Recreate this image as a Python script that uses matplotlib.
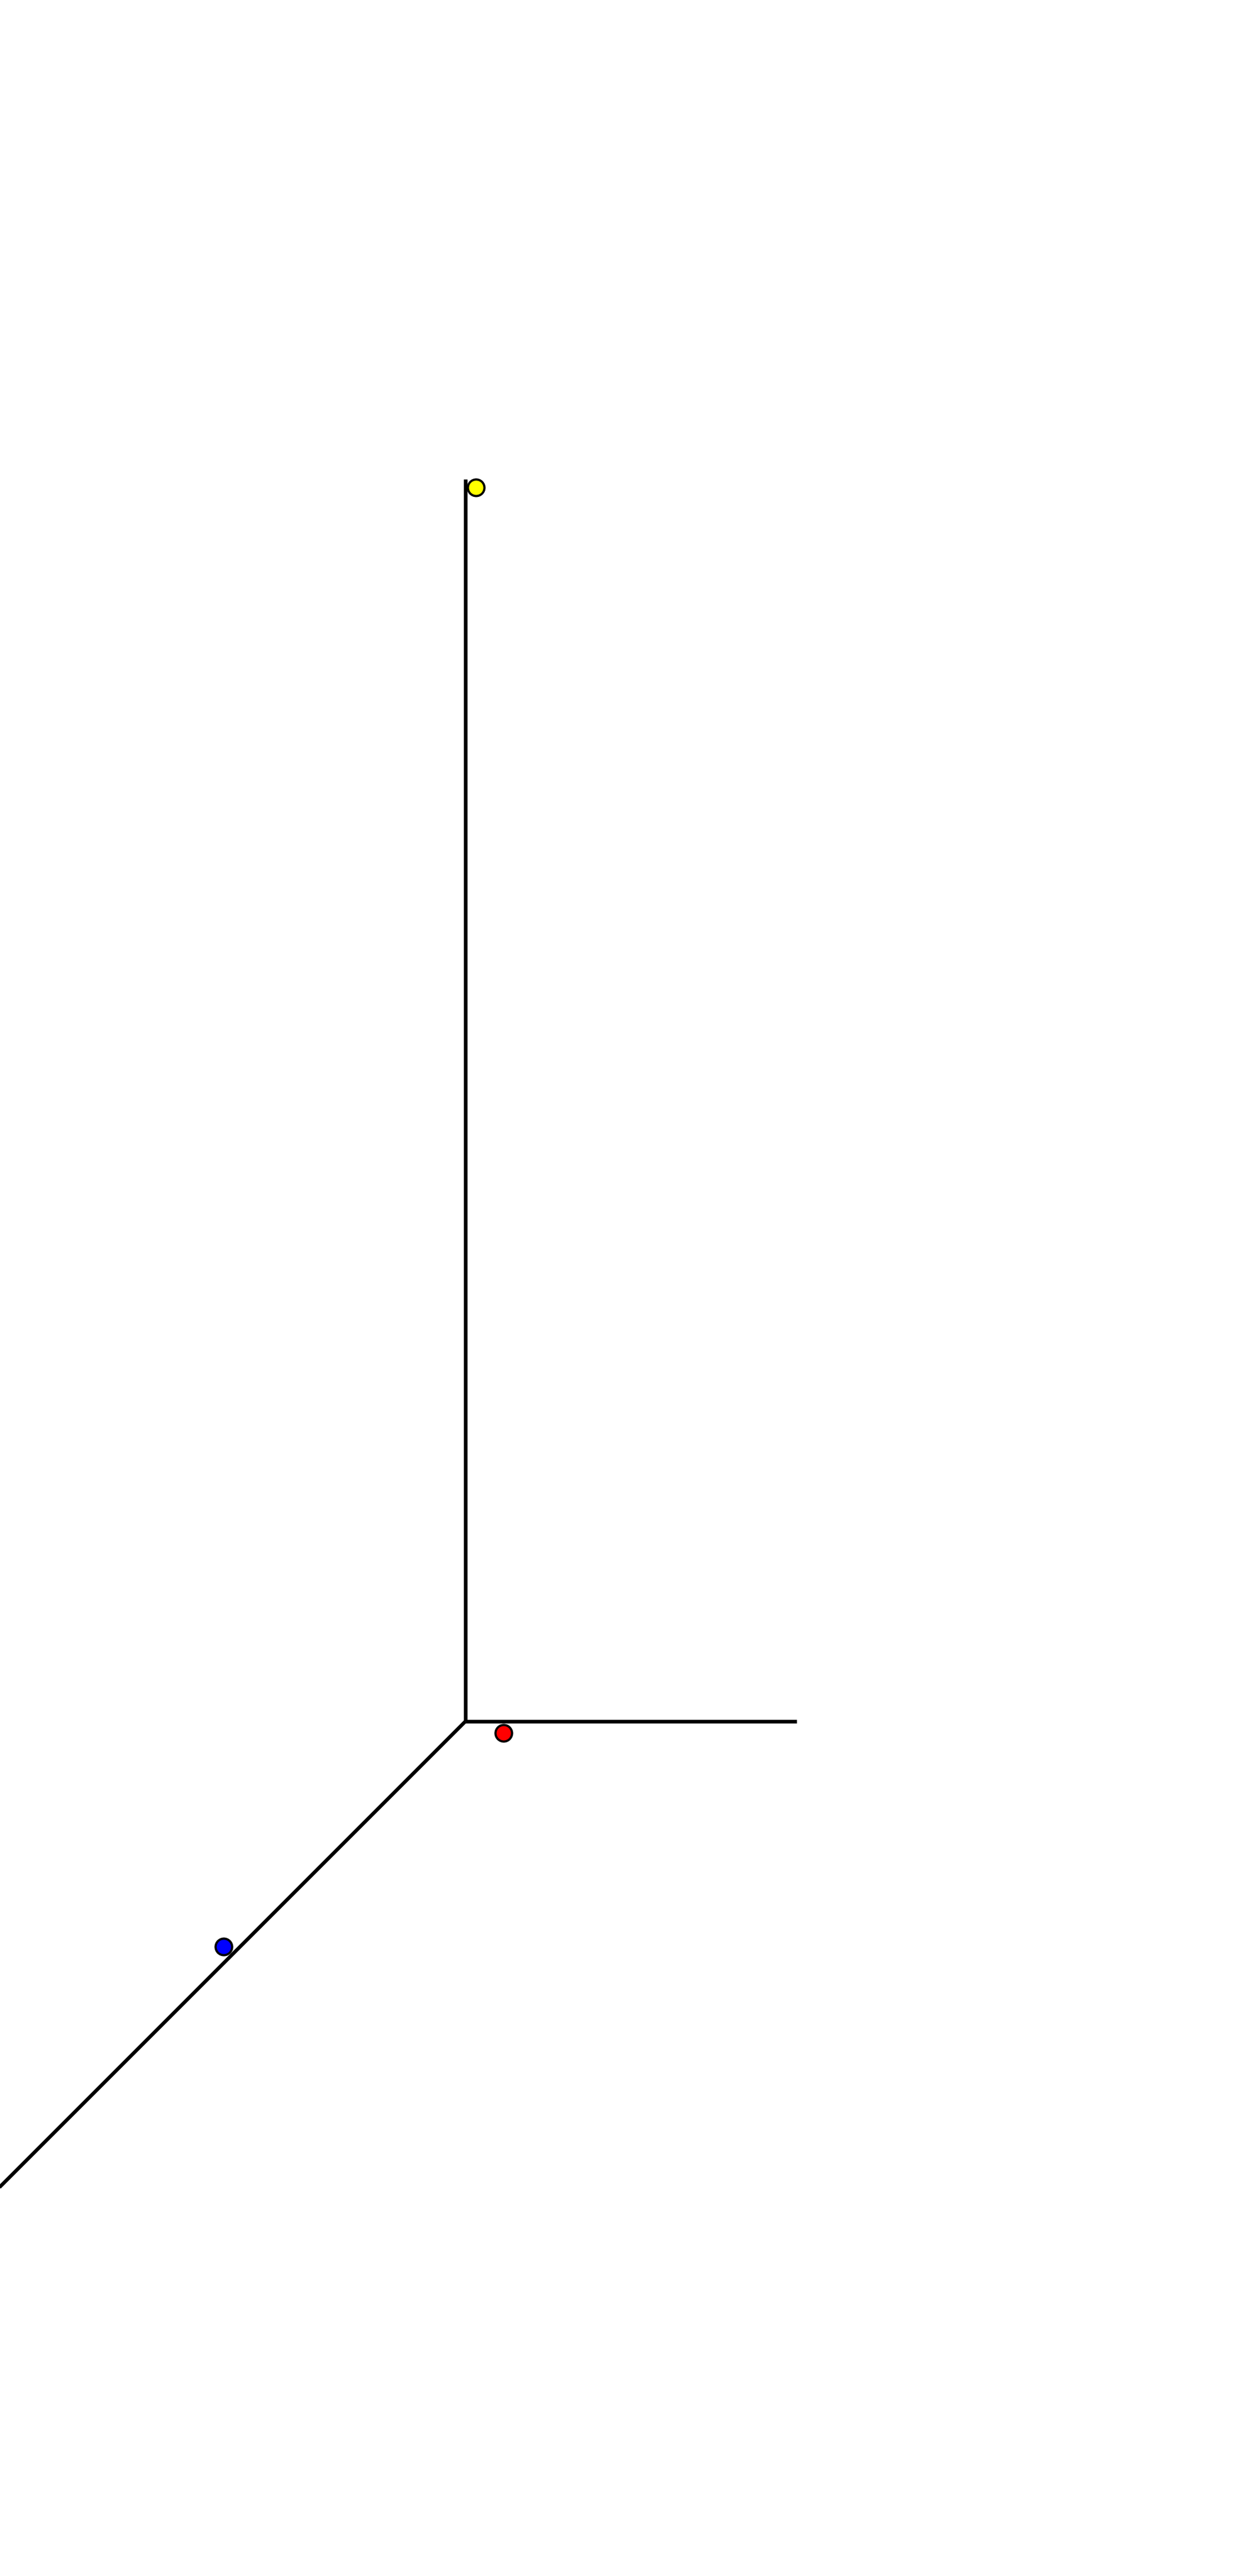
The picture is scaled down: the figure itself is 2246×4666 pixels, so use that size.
import numpy as np
import matplotlib
matplotlib.use('Agg')
import matplotlib.pyplot as plt

# 3D axis triad ends (x, y, z) and the three points, in the chart's own units
axis_x_end = [6.0, 0.0, 0.0]
axis_y_end = [0.0, 10.0, 0.0]
axis_z_end = [0.0, 0.0, 22.5]

point_names = ['red', 'blue', 'yellow']
point_x = [0.90, -0.30, 0.19]
point_y = [0.21, 4.08, 0.00]
point_z = [0.00, 0.00, 22.35]
point_colors = ['#ff0000', '#0000ff', '#ffff00']


def project(x, y, z):
    # simple oblique projection: y axis goes down-left at 45 degrees
    x = np.asarray(x, dtype=float)
    y = np.asarray(y, dtype=float)
    z = np.asarray(z, dtype=float)
    return x - y, z - y


fig = plt.figure(figsize=(22.46, 46.66), dpi=100)
ax = fig.add_axes([0, 0, 1, 1])

for end in (axis_x_end, axis_y_end, axis_z_end):
    u, v = project([0, end[0]], [0, end[1]], [0, end[2]])
    ax.plot(u, v, color='black', lw=4.7, solid_capstyle='butt', zorder=1)

u, v = project(point_x, point_y, point_z)
for i in range(len(point_names)):
    ax.plot(u[i], v[i], 'o', ms=21.6, mfc=point_colors[i], mec='black',
            mew=2.9, zorder=3)

ax.set_xlim(-8.43, 14.03)
ax.set_ylim(-15.48, 31.18)
ax.set_aspect('equal')
ax.axis('off')

fig.savefig('out.png', dpi=100, facecolor='white')
